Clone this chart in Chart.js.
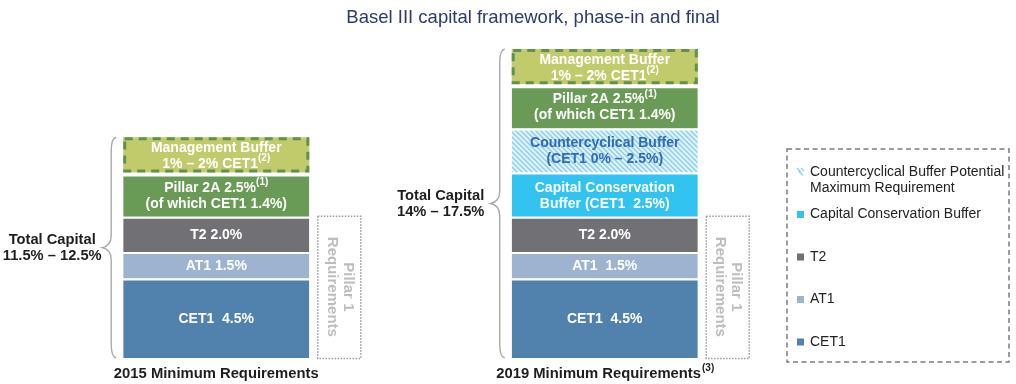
<!DOCTYPE html>
<html>
<head>
<meta charset="utf-8">
<script src="https://cdn.jsdelivr.net/npm/chart.js@4/dist/chart.umd.min.js"></script>
<style>
  html, body { margin: 0; padding: 0; background: #fff; }
  #wrap { position: relative; width: 1016px; height: 384px; }
</style>
</head>
<body>
<div id="wrap"><canvas id="c" width="1016" height="384"></canvas></div>
<script>
// ---- data ----
const categories = ['2015 Minimum Requirements', '2019 Minimum Requirements'];
const categoryNotes = ['', '(3)'];

const cet1 = [4.5, 4.5];
const at1 = [1.5, 1.5];
const t2 = [2.0, 2.0];
const conservationBuffer = [null, 2.5];
const countercyclicalBuffer = [null, 2.5];   // potential maximum
const pillar2A = [2.5, 2.5];
const managementBuffer = [2, 2];              // upper end of the 1% – 2% range

// segment captions ("^" starts a superscript, "\n" breaks the line)
const cet1Labels = ['CET1  4.5%', 'CET1  4.5%'];
const at1Labels = ['AT1 1.5%', 'AT1  1.5%'];
const t2Labels = ['T2 2.0%', 'T2 2.0%'];
const conservationLabels = [null, 'Capital Conservation\nBuffer (CET1  2.5%)'];
const countercyclicalLabels = [null, 'Countercyclical Buffer\n(CET1 0% – 2.5%)'];
const pillar2ALabels = ['Pillar 2A 2.5%^(1)\n(of which CET1 1.4%)', 'Pillar 2A 2.5%^(1)\n(of which CET1 1.4%)'];
const managementLabels = ['Management Buffer\n1% – 2% CET1^(2)', 'Management Buffer\n1% – 2% CET1^(2)'];

const totalCapitalLabels = [['Total Capital', '11.5% – 12.5%'], ['Total Capital', '14% – 17.5%']];
const pillar1Label = ['Pillar 1', 'Requirements'];
const titleText = 'Basel III capital framework, phase-in and final';

const legendItems = [
  { key: 'ccyb', lines: ['Countercyclical Buffer Potential', 'Maximum Requirement'] },
  { key: 'ccb', lines: ['Capital Conservation Buffer'] },
  { key: 't2', lines: ['T2'] },
  { key: 'at1', lines: ['AT1'] },
  { key: 'cet1', lines: ['CET1'] }
];

// ---- styles ----
const FONT = '"Liberation Sans", Arial, Helvetica, sans-serif';
const COLORS = {
  cet1: '#5182ad',
  at1: '#9db3d0',
  t2: '#717175',
  ccb: '#33c3f0',
  p2a: '#6a9b56',
  mgmt: '#c2cb6c',
  mgmtEdge: '#5f924c',
  ccybText: '#2f6cb4'
};

function hatchPattern() {
  const c = document.createElement('canvas');
  c.width = 5; c.height = 5;
  const g = c.getContext('2d');
  g.fillStyle = '#e3f3fb';
  g.fillRect(0, 0, 5, 5);
  g.strokeStyle = '#8dcfef';
  g.lineWidth = 1.5;
  g.beginPath();
  g.moveTo(-1, -1); g.lineTo(6, 6);
  g.moveTo(-4, 1); g.lineTo(4, 9);
  g.moveTo(1, -4); g.lineTo(9, 4);
  g.stroke();
  return g.createPattern(c, 'repeat');
}
const HATCH = hatchPattern();

const sep = { top: 2, right: 0, bottom: 0, left: 0 };

const datasets = [
  { key: 'cet1', label: 'CET1', data: cet1, captions: cet1Labels, backgroundColor: COLORS.cet1, borderWidth: sep },
  { key: 'at1', label: 'AT1', data: at1, captions: at1Labels, backgroundColor: COLORS.at1, borderWidth: sep },
  { key: 't2', label: 'T2', data: t2, captions: t2Labels, backgroundColor: COLORS.t2, borderWidth: sep },
  { key: 'ccb', label: 'Capital Conservation Buffer', data: conservationBuffer, captions: conservationLabels, backgroundColor: COLORS.ccb, borderWidth: sep },
  { key: 'ccyb', label: 'Countercyclical Buffer', data: countercyclicalBuffer, captions: countercyclicalLabels, backgroundColor: HATCH, borderWidth: sep, textColor: COLORS.ccybText },
  { key: 'p2a', label: 'Pillar 2A', data: pillar2A, captions: pillar2ALabels, backgroundColor: COLORS.p2a, borderWidth: { top: 4, right: 0, bottom: 0, left: 0 } },
  { key: 'mgmt', label: 'Management Buffer', data: managementBuffer, captions: managementLabels, backgroundColor: COLORS.mgmt, borderWidth: 0, dashedEdge: COLORS.mgmtEdge }
].map(d => Object.assign({ borderColor: '#ffffff', borderSkipped: false, stack: 'capital', clip: false }, d));

// ---- text helpers ----
function richParts(str) {
  const i = str.indexOf('^');
  return i < 0 ? [[str, false]] : [[str.slice(0, i), false], [str.slice(i + 1), true]];
}
function drawRich(ctx, str, cx, cy, size, color, weight) {
  const parts = richParts(str);
  const main = `${weight} ${size}px ${FONT}`;
  const small = `${weight} ${Math.round(size * 0.68)}px ${FONT}`;
  let w = 0;
  parts.forEach(p => { ctx.font = p[1] ? small : main; w += ctx.measureText(p[0]).width; });
  let x = cx - w / 2;
  ctx.textAlign = 'left';
  ctx.textBaseline = 'middle';
  ctx.fillStyle = color;
  parts.forEach(p => {
    ctx.font = p[1] ? small : main;
    ctx.fillText(p[0], x, p[1] ? cy - size * 0.4 : cy);
    x += ctx.measureText(p[0]).width;
  });
}

function stackExtent(chart, idx) {
  let top = Infinity, bottom = -Infinity, left = 0, right = 0, x = 0;
  chart.data.datasets.forEach((ds, di) => {
    const el = chart.getDatasetMeta(di).data[idx];
    if (!el || ds.data[idx] == null) return;
    top = Math.min(top, el.y);
    bottom = Math.max(bottom, el.base);
    left = el.x - el.width / 2; right = el.x + el.width / 2; x = el.x;
  });
  return { top, bottom, left, right, x };
}

const annotations = {
  id: 'annotations',
  afterDatasetsDraw(chart) {
    const ctx = chart.ctx;
    const ds = chart.data.datasets;
    ctx.save();

    // dashed edge of the management buffer box
    ds.forEach((d, di) => {
      if (!d.dashedEdge) return;
      chart.getDatasetMeta(di).data.forEach((el, i) => {
        if (d.data[i] == null) return;
        const l = el.x - el.width / 2, t = el.y;
        ctx.setLineDash([8, 6]);
        ctx.lineWidth = 3;
        ctx.strokeStyle = d.dashedEdge;
        ctx.strokeRect(l + 1.5, t + 1.5, el.width - 3, el.base - el.y - 3);
        ctx.setLineDash([]);
      });
    });

    // segment captions
    ds.forEach((d, di) => {
      chart.getDatasetMeta(di).data.forEach((el, i) => {
        const cap = d.captions[i];
        if (d.data[i] == null || !cap) return;
        const lines = cap.split('\n');
        const mid = (el.y + el.base) / 2 + 1;
        const lh = 16;
        lines.forEach((ln, k) => {
          drawRich(ctx, ln, el.x, mid + (k - (lines.length - 1) / 2) * lh, 14, d.textColor || '#ffffff', 'bold');
        });
      });
    });

    const t2Index = ds.findIndex(d => d.key === 't2');
    chart.data.labels.forEach((lab, i) => {
      const ext = stackExtent(chart, i);

      // curly brace spanning the full stack
      const xv = ext.left - 12, tip = ext.left - 21, mid = (ext.top + ext.bottom) / 2;
      ctx.strokeStyle = '#a9a9a9';
      ctx.lineWidth = 1.4;
      ctx.beginPath();
      ctx.moveTo(xv + 5, ext.top);
      ctx.quadraticCurveTo(xv, ext.top + 1, xv, ext.top + 14);
      ctx.lineTo(xv, mid - 12);
      ctx.quadraticCurveTo(xv, mid - 2, tip, mid);
      ctx.quadraticCurveTo(xv, mid + 2, xv, mid + 12);
      ctx.lineTo(xv, ext.bottom - 14);
      ctx.quadraticCurveTo(xv, ext.bottom - 1, xv + 5, ext.bottom);
      ctx.stroke();

      // total capital range
      totalCapitalLabels[i].forEach((ln, k) => {
        drawRich(ctx, ln, tip - 50, mid - 8 + k * 16, 14.7, '#1e1e1e', 'bold');
      });

      // Pillar 1 dotted box next to CET1 + AT1 + T2
      const t2El = chart.getDatasetMeta(t2Index).data[i];
      const bx = ext.right + 8, bw = 43, by = t2El.y - 1, bh = ext.bottom - by;
      ctx.strokeStyle = '#9a9a9a';
      ctx.lineWidth = 1.5;
      ctx.setLineDash([1.5, 1.5]);
      ctx.strokeRect(bx + 0.5, by + 0.5, bw, bh);
      ctx.setLineDash([]);
      ctx.save();
      ctx.translate(bx + bw / 2 + 1, by + bh / 2);
      ctx.rotate(Math.PI / 2);
      pillar1Label.forEach((ln, k) => {
        drawRich(ctx, ln, 0, -8 + k * 16, 15, '#bdbdbd', 'bold');
      });
      ctx.restore();

      // category caption under the stack
      const main = `bold 14.8px ${FONT}`, small = `bold 10px ${FONT}`;
      ctx.font = main;
      const w1 = ctx.measureText(lab).width;
      ctx.font = small;
      const w2 = categoryNotes[i] ? ctx.measureText(categoryNotes[i]).width : 0;
      let x = ext.x - (w1 + w2) / 2;
      ctx.textAlign = 'left';
      ctx.textBaseline = 'middle';
      ctx.fillStyle = '#1e1e1e';
      ctx.font = main;
      ctx.fillText(lab, x, ext.bottom + 16);
      if (w2) {
        ctx.font = small;
        ctx.fillText(categoryNotes[i], x + w1 + 1, ext.bottom + 10);
      }
    });

    ctx.restore();
  },
  afterDraw(chart) {
    const ctx = chart.ctx;
    ctx.save();
    // title
    ctx.font = `18.5px ${FONT}`;
    ctx.fillStyle = '#2c3a6c';
    ctx.textAlign = 'center';
    ctx.textBaseline = 'middle';
    ctx.fillText(titleText, 533, 18);

    // legend
    const L = 787, T = 149, R = 1009, B = 362;
    ctx.strokeStyle = '#7c7c7c';
    ctx.lineWidth = 1.5;
    ctx.setLineDash([5, 3.5]);
    ctx.strokeRect(L, T, R - L, B - T);
    ctx.setLineDash([]);
    const byKey = {};
    chart.data.datasets.forEach(d => { byKey[d.key] = d; });
    legendItems.forEach((item, k) => {
      const y = T + 23 + k * 42.5;
      const d = byKey[item.key];
      if (d.backgroundColor === HATCH) {
        ctx.strokeStyle = '#8fd0f0';
        ctx.lineWidth = 1.3;
        ctx.beginPath();
        ctx.moveTo(797, y - 4); ctx.lineTo(801, y);
        ctx.moveTo(798.5, y - 1); ctx.lineTo(803, y + 3.5);
        ctx.moveTo(801, y - 4); ctx.lineTo(804, y - 1);
        ctx.stroke();
      } else {
        ctx.fillStyle = d.backgroundColor;
        ctx.fillRect(797, y - 3.5, 7, 7);
      }
      ctx.font = `14px ${FONT}`;
      ctx.fillStyle = '#222222';
      ctx.textAlign = 'left';
      ctx.textBaseline = 'middle';
      item.lines.forEach((ln, j) => ctx.fillText(ln, 810, y + j * 16));
    });
    ctx.restore();
  }
};

new Chart(document.getElementById('c'), {
  type: 'bar',
  data: { labels: categories, datasets },
  options: {
    responsive: false,
    animation: false,
    devicePixelRatio: 1,
    layout: { padding: { left: 22, right: 217, top: 49, bottom: 26 } },
    datasets: { bar: { categoryPercentage: 1, barPercentage: 0.479 } },
    scales: {
      x: { stacked: true, display: false },
      y: { stacked: true, display: false, min: 0, max: 17.5 }
    },
    plugins: {
      legend: { display: false },
      title: { display: false },
      tooltip: { enabled: false }
    }
  },
  plugins: [annotations]
});
</script>
</body>
</html>
